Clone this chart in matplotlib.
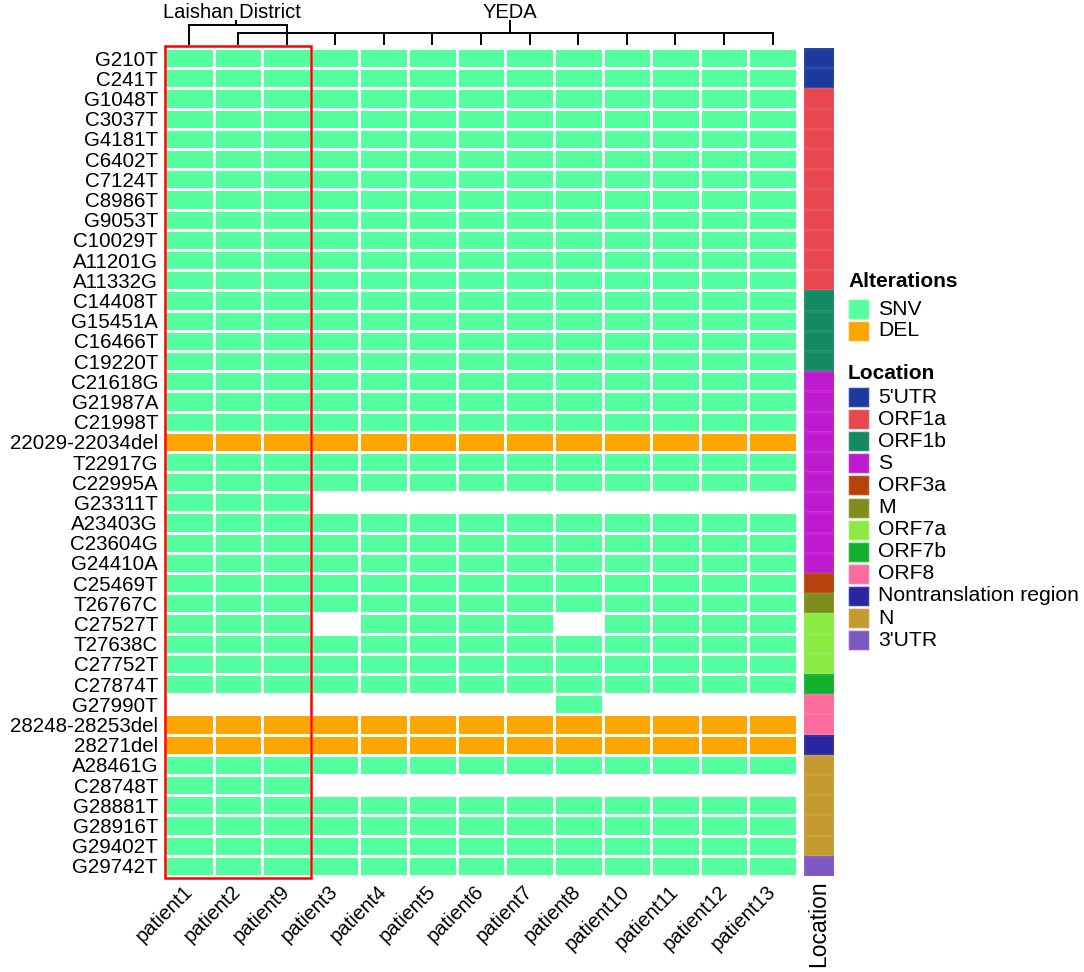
"""
Mutation heatmap of SARS-CoV-2 sites across patients, with genome location bar.
"""

import numpy as np
import matplotlib.pyplot as plt
from matplotlib.colors import ListedColormap
from matplotlib.patches import Rectangle

plt.rcParams["font.family"] = ["Liberation Sans", "DejaVu Sans"]

# ---- data -----------------------------------------------------------------
patients = ["patient1", "patient2", "patient9", "patient3", "patient4",
            "patient5", "patient6", "patient7", "patient8", "patient10",
            "patient11", "patient12", "patient13"]

mutations = ["G210T", "C241T", "G1048T", "C3037T", "G4181T", "C6402T",
             "C7124T", "C8986T", "G9053T", "C10029T", "A11201G", "A11332G",
             "C14408T", "G15451A", "C16466T", "C19220T", "C21618G", "G21987A",
             "C21998T", "22029-22034del", "T22917G", "C22995A", "G23311T",
             "A23403G", "C23604G", "G24410A", "C25469T", "T26767C", "C27527T",
             "T27638C", "C27752T", "C27874T", "G27990T", "28248-28253del",
             "28271del", "A28461G", "C28748T", "G28881T", "G28916T",
             "G29402T", "G29742T"]

mutation_location = (["5'UTR"] * 2 + ["ORF1a"] * 10 + ["ORF1b"] * 4
                     + ["S"] * 10 + ["ORF3a", "M"] + ["ORF7a"] * 3
                     + ["ORF7b"] + ["ORF8"] * 2 + ["Nontranslation region"]
                     + ["N"] * 5 + ["3'UTR"])

# patients in which a site was not detected
absent = {
    "G23311T": patients[3:],
    "C27527T": ["patient3", "patient8"],
    "G27990T": [p for p in patients if p != "patient8"],
    "C28748T": patients[3:],
}

laishan = ["patient1", "patient2", "patient9"]
yeda_span = ["patient2", "patient13"]   # bracket as drawn in the figure

alt_names = ["SNV", "DEL"]
alt_colors = ["#54FF9F", "#FFA500"]

loc_names = ["5'UTR", "ORF1a", "ORF1b", "S", "ORF3a", "M", "ORF7a", "ORF7b",
             "ORF8", "Nontranslation region", "N", "3'UTR"]
loc_colors = ["#1C3A9E", "#E8474F", "#158A62", "#BE1BCE", "#B5420B",
              "#7F8C1E", "#8BEB42", "#12B02F", "#FC6B9E", "#2A26A0",
              "#C49A30", "#7E57C2"]

# ---- layout helpers -------------------------------------------------------
W, H = 1084, 972
fig = plt.figure(figsize=(W / 100, H / 100), dpi=100)


def px_axes(x0, y0, x1, y1):
    return fig.add_axes([x0 / W, 1 - y1 / H, (x1 - x0) / W, (y1 - y0) / H])


n_rows, n_cols = len(mutations), len(patients)

# ---- main heatmap ---------------------------------------------------------
ax = px_axes(165, 48, 797, 876)
mat = np.full((n_rows, n_cols), np.nan)
for i, m in enumerate(mutations):
    code = alt_names.index("DEL" if m.endswith("del") else "SNV")
    for j, p in enumerate(patients):
        if p not in absent.get(m, []):
            mat[i, j] = code

ax.pcolormesh(np.ma.masked_invalid(mat), cmap=ListedColormap(alt_colors),
              vmin=-0.5, vmax=1.5, edgecolors="white", linewidth=2)
ax.set_xlim(0, n_cols)
ax.set_ylim(n_rows, 0)
ax.set_yticks(np.arange(n_rows) + 0.5, mutations, fontsize=14.8)
ax.set_xticks(np.arange(n_cols) + 0.5, patients, rotation=45, ha="right",
              va="center", rotation_mode="anchor", fontsize=14.5)
ax.tick_params(axis="y", length=0, pad=5)
ax.tick_params(axis="x", length=0, pad=9)
for s in ax.spines.values():
    s.set_visible(False)

# red box around the Laishan District samples
ax.add_patch(Rectangle((0, -0.1), len(laishan), n_rows + 0.2, fill=False,
                       edgecolor="#FF0000", lw=1.8, clip_on=False, zorder=5))

# ---- location bar ---------------------------------------------------------
lax = px_axes(804, 48, 834, 876)
loc_idx = np.array([[loc_names.index(l)] for l in mutation_location])
lax.pcolormesh(loc_idx, cmap=ListedColormap(loc_colors), vmin=-0.5,
               vmax=len(loc_names) - 0.5, edgecolors=(1, 1, 1, 0.06),
               linewidth=0.8)
lax.set_ylim(n_rows, 0)
lax.set_yticks([])
lax.set_xticks([0.5], ["Location"], rotation=90, fontsize=16.5, va="top")
lax.tick_params(length=0, pad=3)
for s in lax.spines.values():
    s.set_visible(False)

# ---- dendrogram-style brackets on top -------------------------------------
dax = px_axes(165, 0, 797, 48)
dax.set_xlim(0, n_cols)
dax.set_ylim(48, 0)
dax.set_axis_off()

pos = {p: i + 0.5 for i, p in enumerate(patients)}
lai_x = [pos[p] for p in laishan]
y_lai, y_yeda, y_top, y_tip = 25, 33, 21, 44
kw = dict(color="black", lw=1.4)

dax.plot([min(lai_x), max(lai_x)], [y_lai, y_lai], **kw)
lai_c = np.mean(lai_x) - 0.03
dax.plot([lai_c, lai_c], [y_top, y_lai], **kw)
dax.text(lai_c - 0.1, 12, "Laishan District", ha="center", va="center",
         fontsize=14.5)

yx0, yx1 = pos[yeda_span[0]], pos[yeda_span[1]]
dax.plot([yx0, yx1], [y_yeda, y_yeda], **kw)
yeda_c = (yx0 + yx1) / 2 + 0.1
dax.plot([yeda_c, yeda_c], [y_top, y_yeda], **kw)
dax.text(yeda_c, 12, "YEDA", ha="center", va="center", fontsize=14.5)

for p in patients:
    y0 = y_lai if p in (laishan[0], laishan[-1]) else y_yeda
    dax.plot([pos[p], pos[p]], [y0, y_tip], **kw)

# ---- legends --------------------------------------------------------------
gax = px_axes(0, 0, W, H)
gax.set_xlim(0, W)
gax.set_ylim(H, 0)
gax.set_axis_off()


def legend_block(title, names, colors, y_title, y_first, step):
    gax.text(848, y_title, title, fontsize=15, fontweight="bold",
             va="center", ha="left")
    for k, (n, c) in enumerate(zip(names, colors)):
        yc = y_first + k * step
        gax.add_patch(Rectangle((848, yc - 10), 21, 20, facecolor=c,
                                edgecolor=(1, 1, 1, 0.5), lw=1))
        gax.text(878, yc, n, fontsize=15.2, va="center", ha="left")


legend_block("Alterations", alt_names, alt_colors, 281, 309, 21.5)
legend_block("Location", loc_names, loc_colors, 373, 397, 22.1)

fig.savefig("out.png", dpi=100)
